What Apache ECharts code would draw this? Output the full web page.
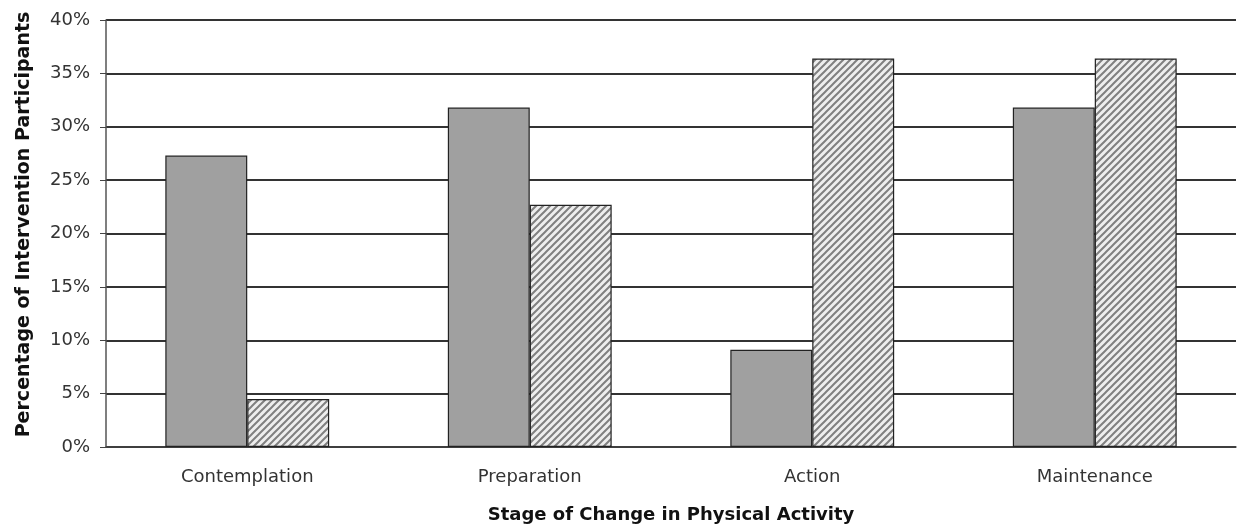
<!DOCTYPE html>
<html>
<head>
<meta charset="utf-8">
<script src="https://cdn.jsdelivr.net/npm/echarts@6/dist/echarts.min.js"></script>
<style>
	html, body { margin: 0; padding: 0; background: #fff; }
	#chart { width: 1243px; height: 529px; }
</style>
</head>
<body>
<div id="chart"></div>
<script>
'use strict';

var categories = ['Contemplation', 'Preparation', 'Action', 'Maintenance'];
// solid grey bars
var solidValues = [27.3, 31.8, 9.1, 31.8];
// hatched bars
var hatchValues = [4.5, 22.7, 36.4, 36.4];
var yTicks = [0, 5, 10, 15, 20, 25, 30, 35, 40];

// diagonal hatch tile
function makeHatch() {
	var size = 7;
	var c = document.createElement('canvas');
	c.width = size;
	c.height = size;
	var ctx = c.getContext('2d');
	ctx.fillStyle = '#eeeeee';
	ctx.fillRect(0, 0, size, size);
	ctx.strokeStyle = '#808080';
	ctx.lineWidth = 2;
	ctx.beginPath();
	ctx.moveTo(-1, size + 1);
	ctx.lineTo(size + 1, -1);
	ctx.moveTo(-1, 1);
	ctx.lineTo(1, -1);
	ctx.moveTo(size - 1, size + 1);
	ctx.lineTo(size + 1, size - 1);
	ctx.stroke();
	return c;
}

var labelFont = 'DejaVu Sans';

var chart = echarts.init(document.getElementById('chart'));
chart.setOption({
	animation: false,
	backgroundColor: '#fff',
	grid: { left: 106, right: 7, top: 20, bottom: 82, outerBoundsMode: 'none' },
	xAxis: {
		type: 'category',
		data: categories,
		name: 'Stage of Change in Physical Activity',
		nameLocation: 'middle',
		nameGap: 59,
		nameTextStyle: { fontFamily: labelFont, fontWeight: 'bold', fontSize: 18, color: '#111', verticalAlign: 'top' },
		axisLine: { lineStyle: { color: '#444', width: 1.5 } },
		axisTick: { inside: true, length: 5, lineStyle: { color: '#444' } },
		axisLabel: { fontFamily: labelFont, fontSize: 18, color: '#333', margin: 21 }
	},
	yAxis: {
		type: 'value',
		min: yTicks[0],
		max: yTicks[yTicks.length - 1],
		interval: 5,
		name: 'Percentage of Intervention Participants',
		nameLocation: 'middle',
		nameGap: 72,
		nameTextStyle: {
			fontFamily: labelFont, fontWeight: 'bold', fontSize: 19, color: '#111',
			padding: [0, 0, 0, 18]
		},
		axisLine: { show: true, lineStyle: { color: '#555', width: 1.5 } },
		axisTick: { show: true, length: 6, lineStyle: { color: '#444' } },
		axisLabel: {
			fontFamily: labelFont, fontSize: 18, color: '#333', margin: 16,
			formatter: function (v) { return v + '%'; }
		},
		splitLine: { show: true, lineStyle: { color: '#333', width: 1.8 } }
	},
	series: [{
		type: 'bar',
		data: solidValues,
		barWidth: '29%',
		barGap: '0%',
		itemStyle: { color: '#a0a0a0', borderColor: '#222', borderWidth: 1.2 }
	}, {
		type: 'bar',
		data: hatchValues,
		barWidth: '29%',
		barGap: '0%',
		itemStyle: {
			color: { image: makeHatch(), repeat: 'repeat' },
			borderColor: '#222',
			borderWidth: 1.2
		}
	}]
});
</script>
</body>
</html>
